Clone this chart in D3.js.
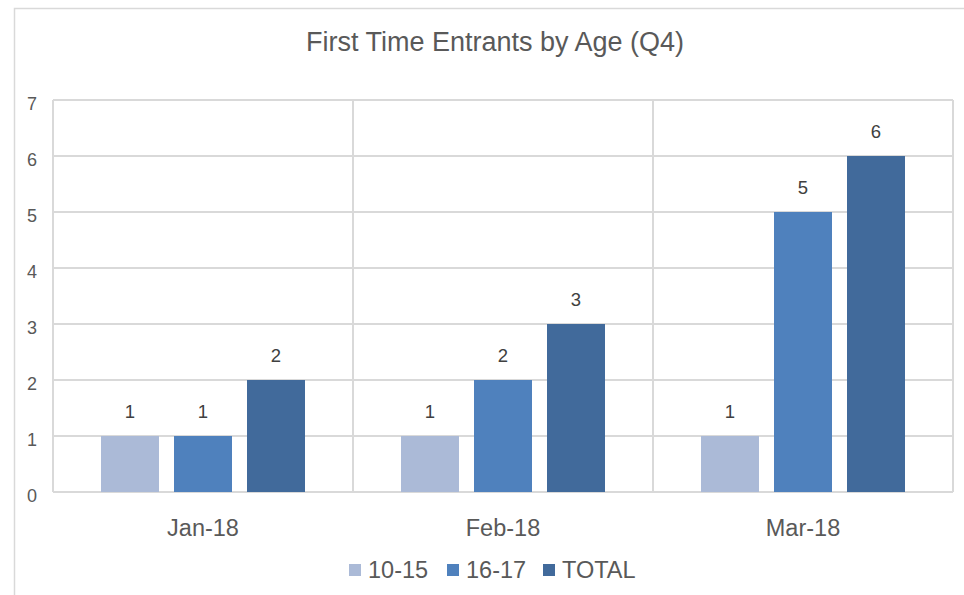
<!DOCTYPE html>
<html><head><meta charset="utf-8">
<script src="https://cdn.jsdelivr.net/npm/d3@7"></script>
<style>body{margin:0;background:#fff}svg{display:block;font-family:"Liberation Sans",Arial,sans-serif}</style>
</head><body><svg id="c" width="964" height="595"></svg>
<script>
const categories = ["Jan-18", "Feb-18", "Mar-18"];
const seriesNames = ["10-15", "16-17", "TOTAL"];
const values1015 = [1, 1, 1];
const values1617 = [1, 2, 5];
const valuesTotal = [2, 3, 6];
const yTicks = [0, 1, 2, 3, 4, 5, 6, 7];
const colors = ["#abbad7", "#4f81bd", "#416a9b"];

const seriesValues = [values1015, values1617, valuesTotal];
const svg = d3.select("#c");
const pLeft = 53, pRight = 953, pTop = 100, pBottom = 492;

svg.append("rect").attr("x", 14.5).attr("y", 8.5).attr("width", 1000).attr("height", 700)
  .attr("fill", "none").attr("stroke", "#d9d9d9").attr("stroke-width", 1.5);

const x0 = d3.scaleBand().domain(categories).range([pLeft, pRight]).padding(0);
const x1 = d3.scaleBand().domain(seriesNames).range([48, 252]).paddingInner(15/73).paddingOuter(0);
const y = d3.scaleLinear().domain([0, 7]).range([pBottom, pTop]);

// horizontal gridlines
svg.append("g").selectAll("line").data(yTicks).join("line")
  .attr("x1", pLeft).attr("x2", pRight).attr("y1", d => y(d)).attr("y2", d => y(d))
  .attr("stroke", "#d9d9d9").attr("stroke-width", 2);
// vertical gridlines
const vb = categories.map(c => x0(c)).concat([pRight]);
svg.append("g").selectAll("line").data(vb).join("line")
  .attr("x1", d => d).attr("x2", d => d).attr("y1", pTop).attr("y2", pBottom)
  .attr("stroke", "#d9d9d9").attr("stroke-width", 2);

// y tick labels
svg.append("g").selectAll("text").data(yTicks).join("text")
  .attr("x", 37).attr("y", d => y(d) + 10).attr("text-anchor", "end")
  .attr("fill", "#595959").attr("font-size", 18).text(d => d);

// bars
const data = [];
categories.forEach((c, i) => seriesNames.forEach((s, j) => data.push({c, s, j, v: seriesValues[j][i]})));
svg.append("g").selectAll("rect").data(data).join("rect")
  .attr("x", d => x0(d.c) + x1(d.s)).attr("width", x1.bandwidth())
  .attr("y", d => y(d.v)).attr("height", d => y(0) - y(d.v))
  .attr("fill", d => colors[d.j]);
// data labels
svg.append("g").selectAll("text").data(data).join("text")
  .attr("x", d => x0(d.c) + x1(d.s) + x1.bandwidth()/2).attr("y", d => y(d.v) - 18)
  .attr("text-anchor", "middle").attr("fill", "#404040").attr("font-size", 18.5).text(d => d.v);

// category labels
svg.append("g").selectAll("text").data(categories).join("text")
  .attr("x", d => x0(d) + x0.bandwidth()/2).attr("y", 528).attr("dy", "0.35em")
  .attr("text-anchor", "middle").attr("fill", "#595959").attr("font-size", 23.5).text(d => d);

// title
svg.append("text").attr("x", 495).attr("y", 42).attr("dy", "0.35em").attr("text-anchor", "middle")
  .attr("fill", "#595959").attr("font-size", 27).text("First Time Entrants by Age (Q4)");

// legend
const legX = [349, 447, 543];
const lg = svg.append("g").selectAll("g").data(seriesNames).join("g")
  .attr("transform", (d, i) => `translate(${legX[i]},570)`);
lg.append("rect").attr("x", 0).attr("y", -6).attr("width", 12).attr("height", 12).attr("fill", (d, i) => colors[i]);
lg.append("text").attr("x", 19).attr("y", 0).attr("dy", "0.35em").attr("fill", "#595959")
  .attr("font-size", 23.5).text(d => d);
</script></body></html>
